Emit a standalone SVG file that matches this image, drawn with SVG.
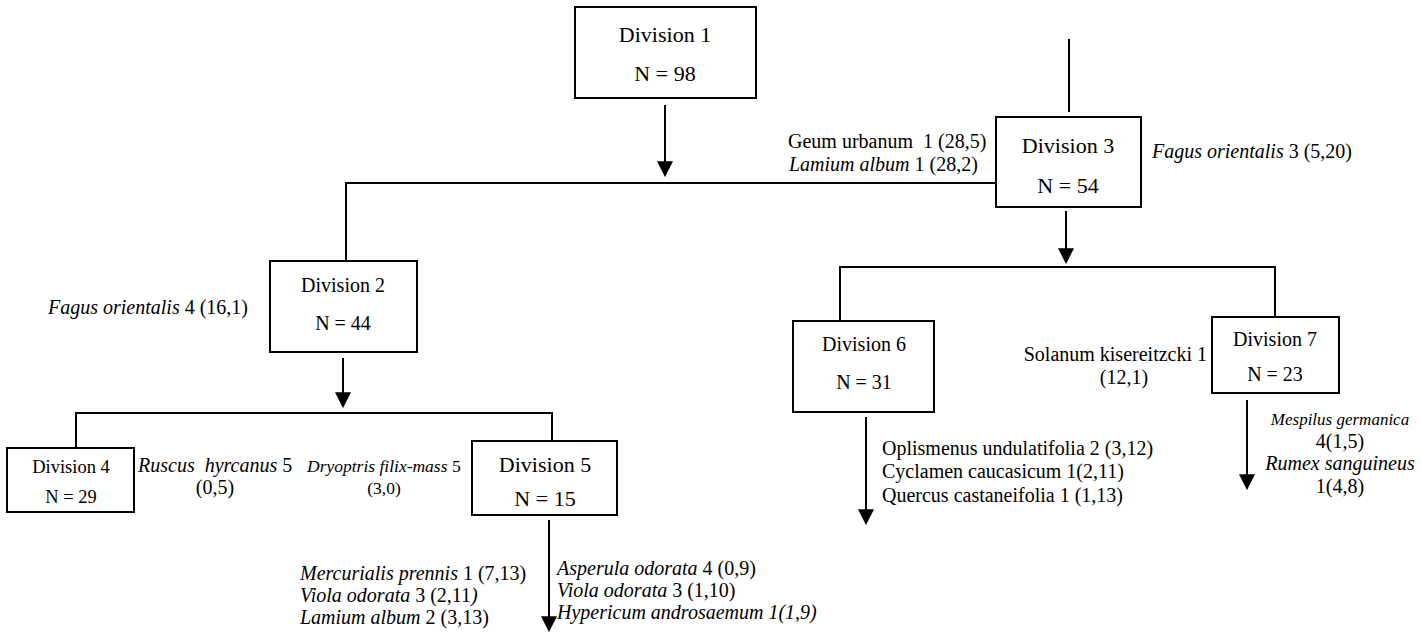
<svg xmlns="http://www.w3.org/2000/svg" width="1421" height="635" viewBox="0 0 1421 635">
<style>
  .box { fill: #fff; stroke: #000; stroke-width: 2; }
  .ln { fill: none; stroke: #000; stroke-width: 2; }
  text { font-family: "Liberation Serif", "Times New Roman", serif; fill: #000; }
  .t22 { font-size: 22px; text-anchor: middle; }
  .t20 { font-size: 20px; text-anchor: middle; }
  .t18 { font-size: 18.5px; text-anchor: middle; }
  .lab { font-size: 20px; }
  .it { font-style: italic; }
</style>
<defs>
  <marker id="ah" markerUnits="userSpaceOnUse" markerWidth="16" markerHeight="16" refX="13" refY="7.5" orient="auto" viewBox="0 0 15 15">
    <path d="M0,0 L15,7.5 L0,15 Z" fill="#000"/>
  </marker>
</defs>
<rect width="1421" height="635" fill="#fff"/>

<g id="connectors">
  <line class="ln" x1="1069" y1="39" x2="1069" y2="112"/>
  <line class="ln" x1="665" y1="105" x2="665" y2="175" marker-end="url(#ah)"/>
  <polyline class="ln" points="346,261 346,183 996,183"/>
  <line class="ln" x1="1066" y1="211" x2="1066" y2="262" marker-end="url(#ah)"/>
  <polyline class="ln" points="840,321 840,267 1275,267 1275,317"/>
  <line class="ln" x1="343" y1="358" x2="343" y2="406" marker-end="url(#ah)"/>
  <polyline class="ln" points="76,448 76,413 552,413 552,441"/>
  <line class="ln" x1="866" y1="417" x2="866" y2="523" marker-end="url(#ah)"/>
  <line class="ln" x1="1247" y1="400" x2="1247" y2="488" marker-end="url(#ah)"/>
  <line class="ln" x1="549" y1="520" x2="549" y2="630" marker-end="url(#ah)"/>
</g>

<g id="div1">
  <rect class="box" x="575" y="7" width="181" height="91"/>
  <text class="t22" x="665" y="42">Division 1</text>
  <text class="t22" x="665" y="81">N = 98</text>
</g>
<g id="div3">
  <rect class="box" x="996" y="117" width="145" height="90"/>
  <text class="t22" x="1068" y="153">Division 3</text>
  <text class="t22" x="1068" y="193">N = 54</text>
</g>
<g id="div2">
  <rect class="box" x="270" y="261" width="147" height="91"/>
  <text class="t20" x="343" y="292">Division 2</text>
  <text class="t20" x="343" y="330">N = 44</text>
</g>
<g id="div6">
  <rect class="box" x="793" y="321" width="141" height="91"/>
  <text class="t20" x="864" y="351">Division 6</text>
  <text class="t20" x="864" y="389">N = 31</text>
</g>
<g id="div7">
  <rect class="box" x="1212" y="317" width="127" height="76"/>
  <text class="t20" x="1275" y="346">Division 7</text>
  <text class="t20" x="1275" y="381">N = 23</text>
</g>
<g id="div4">
  <rect class="box" x="7" y="448" width="127" height="64"/>
  <text class="t18" x="71" y="473">Division 4</text>
  <text class="t18" x="71" y="503">N = 29</text>
</g>
<g id="div5">
  <rect class="box" x="472" y="441" width="145" height="74"/>
  <text class="t22" x="545" y="472">Division 5</text>
  <text class="t22" x="545" y="506">N = 15</text>
</g>

<g id="labels">
  <text class="lab" x="788" y="148" xml:space="preserve">Geum urbanum  1 (28,5)</text>
  <text class="lab" x="789" y="171"><tspan class="it">Lamium album</tspan> 1 (28,2)</text>
  <text class="lab" x="1152" y="158"><tspan class="it">Fagus orientalis</tspan> 3 (5,20)</text>
  <text class="lab" x="48" y="314"><tspan class="it">Fagus orientalis</tspan> 4 (16,1)</text>
  <text class="lab" x="1207" y="361" text-anchor="end">Solanum kisereitzcki 1</text>
  <text class="lab" x="1124" y="384" text-anchor="middle">(12,1)</text>
  <text class="lab" x="882" y="455">Oplismenus undulatifolia 2 (3,12)</text>
  <text class="lab" x="882" y="478">Cyclamen caucasicum 1(2,11)</text>
  <text class="lab" x="882" y="502">Quercus castaneifolia 1 (1,13)</text>
  <text class="it" x="1340" y="425" font-size="17" text-anchor="middle">Mespilus germanica</text>
  <text class="lab" x="1340" y="448" text-anchor="middle">4(1,5)</text>
  <text class="lab it" x="1340" y="470" text-anchor="middle">Rumex sanguineus</text>
  <text class="lab" x="1340" y="493" text-anchor="middle">1(4,8)</text>
  <text class="lab" x="138" y="472" xml:space="preserve"><tspan class="it">Ruscus  hyrcanus</tspan> 5</text>
  <text class="lab" x="215" y="494" text-anchor="middle">(0,5)</text>
  <text x="307" y="472" font-size="17.5"><tspan class="it">Dryoptris filix-mass</tspan> 5</text>
  <text x="384" y="494" font-size="17.5" text-anchor="middle">(3,0)</text>
  <text class="lab" x="300" y="580"><tspan class="it">Mercurialis prennis</tspan> 1 (7,13)</text>
  <text class="lab" x="300" y="602"><tspan class="it">Viola odorata</tspan> 3 (2,11<tspan class="it">)</tspan></text>
  <text class="lab" x="300" y="624"><tspan class="it">Lamium album</tspan> 2 (3,13)</text>
  <text class="lab" x="557" y="575"><tspan class="it">Asperula odorata</tspan> 4 (0,9)</text>
  <text class="lab" x="557" y="597"><tspan class="it">Viola odorata</tspan> 3 (1,10)</text>
  <text class="lab it" x="557" y="619">Hypericum androsaemum 1(1,9)</text>
</g>
</svg>
